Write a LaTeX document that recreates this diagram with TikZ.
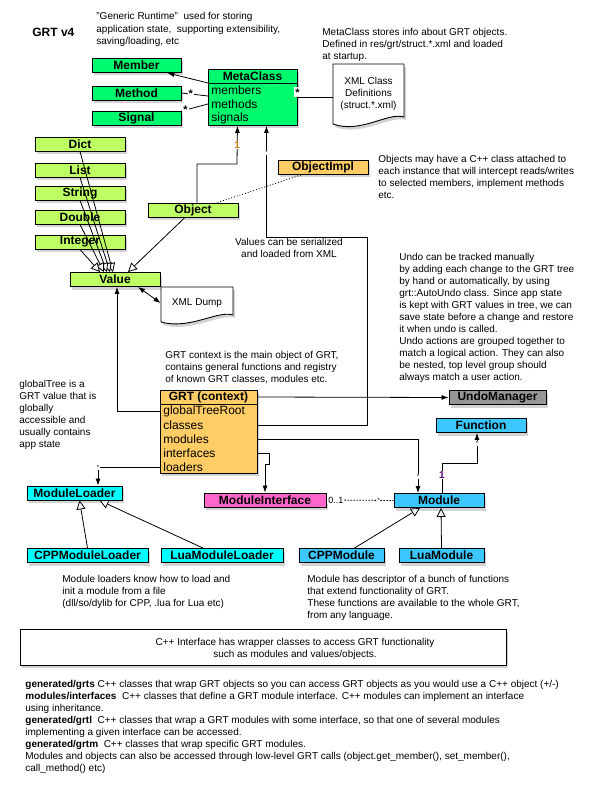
\documentclass[tikz,border=0pt]{standalone}
\usepackage{fontspec}
\setmainfont{Liberation Sans}
\usetikzlibrary{arrows.meta,shadows}
\definecolor{mcgreen}{RGB}{0,250,110}
\definecolor{valgreen}{RGB}{190,255,100}
\definecolor{grtorange}{RGB}{255,204,102}
\definecolor{undogray}{RGB}{150,150,150}
\definecolor{aqua}{RGB}{0,255,255}
\definecolor{skyblue}{RGB}{60,200,255}
\definecolor{ifpink}{RGB}{255,102,204}
\definecolor{oneorange}{RGB}{200,120,20}
\definecolor{onepurple}{RGB}{90,0,110}
\begin{document}
\begin{tikzpicture}[x=1pt, y=-1pt, line width=0.8pt,
    shad/.style={drop shadow={shadow xshift=2pt, shadow yshift=-3pt, opacity=.35}},
    cls/.style={draw, line width=0.9pt, minimum height=14pt, inner sep=0pt, shad,
        font=\bfseries\fontsize{12}{14}\selectfont},
    fld/.style={anchor=west, inner sep=0pt, font=\fontsize{12}{14}\selectfont},
    txt/.style={anchor=north west, align=left, inner sep=0pt, font=\fontsize{10}{12}\selectfont},
    mult/.style={fill=white, inner sep=1pt, font=\bfseries\fontsize{11}{11}\selectfont},
    tstar/.style={fill=white, inner sep=0.5pt, font=\fontsize{6}{6}\selectfont},
    one/.style={fill=white, inner sep=1pt, font=\bfseries\fontsize{10}{10}\selectfont},
    doc/.style={draw, line width=0.9pt, fill=white, shad},
    arr/.style={-{Latex[length=7pt,width=5pt]}},
    inh/.style={-{Triangle[fill=white,length=9pt,width=9pt]}}]
\useasboundingbox (0,0) rectangle (591,794);
% notes
\node[anchor=west, inner sep=0pt, font=\bfseries\fontsize{12}{14}\selectfont] (title) at (32,32) {GRT v4};
\node[txt, font=\fontsize{10}{12.5}\selectfont] (grtnote) at (96,12) {"Generic Runtime"\ \ used for storing\\application state,\ \ supporting extensibility,\\saving/loading, etc};
\node[txt] (mcnote) at (322,28) {MetaClass stores info about GRT objects.\\Defined in res/grt/struct.*.xml and loaded\\at startup.};
\node[txt] (implnote) at (378,155) {Objects may have a C++ class attached to\\each instance that will intercept reads/writes\\to selected members, implement methods\\etc.};
\node[txt, anchor=north, align=center] (xmlnote) at (289,238) {Values can be serialized\\and loaded from XML};
\node[txt] (undonote) at (399,253) {Undo can be tracked manually\\by adding each change to the GRT tree\\by hand or automatically, by using\\grt::AutoUndo class. Since app state\\is kept with GRT values in tree, we can\\save state before a change and restore\\it when undo is called.\\Undo actions are grouped together to\\match a logical action. They can also\\be nested, top level group should\\always match a user action.};
\node[txt] (ctxnote) at (165,351) {GRT context is the main object of GRT,\\contains general functions and registry\\of known GRT classes, modules etc.};
\node[txt] (treenote) at (19,380) {globalTree is a\\GRT value that is\\globally\\accessible and\\usually contains\\app state};
\node[txt] (loadnote) at (62,575) {Module loaders know how to load and\\init a module from a file\\(dll/so/dylib for CPP, .lua for Lua etc)};
\node[txt] (modnote) at (307,575) {Module has descriptor of a bunch of functions\\that extend functionality of GRT.\\These functions are available to the whole GRT,\\from any language.};
% documents
\path[doc] (333,64) -- (404,64) -- (404,117) .. controls (388,112) and (360,134) .. (333,124) -- cycle;
\node[minimum width=71pt, minimum height=50pt, inner sep=0pt, align=center, font=\fontsize{10}{12}\selectfont] (xmldefs) at (368.5,94) {XML Class\\Definitions\\(struct.*.xml)};
\path[doc] (161,287) -- (233,287) -- (233,315) .. controls (218,310) and (190,330) .. (161,322) -- cycle;
\node[minimum width=72pt, minimum height=20pt, inner sep=0pt, font=\fontsize{10}{12}\selectfont] (xmldump) at (197,303) {XML Dump};
% classes
\node[cls, fill=mcgreen, minimum width=89pt] (member) at (136.5,65.5) {Member};
\node[cls, fill=mcgreen, minimum width=89pt] (method) at (136.5,93) {Method};
\node[cls, fill=mcgreen, minimum width=89pt] (signal) at (136.5,118.5) {Signal};
\node[cls, fill=mcgreen, minimum width=89pt, minimum height=56pt, anchor=north west] (metaclass) at (208,69) {};
\node[inner sep=0pt, font=\bfseries\fontsize{12}{14}\selectfont] (mchead) at (252.5,76) {MetaClass};
\draw[line width=0.9pt] (metaclass.north west) ++(0,14) -- ++(89,0);
\node[fld] (mcmembers) at (211,90) {members};
\node[fld] (mcmethods) at (211,104) {methods};
\node[fld] (mcsignals) at (211,118) {signals};
\foreach \n/\y/\t in {dict/144/Dict, list/170/List, string/193/String, double/217/Double, integer/242/Integer}
  \node[cls, fill=valgreen, minimum width=90pt] (\n) at (80,\y) {\t};
\node[cls, fill=valgreen, minimum width=90pt] (value) at (115,279.5) {Value};
\node[cls, fill=valgreen, minimum width=90pt] (object) at (193,210) {Object};
\node[cls, fill=grtorange, minimum width=90pt] (objectimpl) at (323,167) {ObjectImpl};
\node[cls, fill=grtorange, minimum width=97pt, minimum height=83pt, anchor=north west] (grt) at (160,390) {};
\node[inner sep=0pt, font=\bfseries\fontsize{12}{14}\selectfont] (grthead) at (208.5,397) {GRT (context)};
\draw[line width=0.9pt] (grt.north west) ++(0,14) -- ++(97,0);
\node[fld] (groot) at (163,411) {globalTreeRoot};
\node[fld] (gclasses) at (163,425) {classes};
\node[fld] (gmodules) at (163,439) {modules};
\node[fld] (gifaces) at (163,453) {interfaces};
\node[fld] (gloaders) at (163,467) {loaders};
\node[cls, fill=undogray, minimum width=97pt] (undo) at (497.5,397.5) {UndoManager};
\node[cls, fill=skyblue, minimum width=90pt] (function) at (481,425.5) {Function};
\node[cls, fill=aqua, minimum width=95pt] (modloader) at (74.5,493) {ModuleLoader};
\node[cls, fill=ifpink, minimum width=122pt] (modiface) at (265,500) {ModuleInterface};
\node[cls, fill=skyblue, minimum width=90pt] (module) at (439,500.5) {Module};
\node[cls, fill=aqua, minimum width=121pt] (cppmodloader) at (87.5,555.5) {CPPModuleLoader};
\node[cls, fill=aqua, minimum width=122pt] (luamodloader) at (222,555.5) {LuaModuleLoader};
\node[cls, fill=skyblue, minimum width=85pt] (cppmodule) at (341.5,555.5) {CPPModule};
\node[cls, fill=skyblue, minimum width=85pt] (luamodule) at (441.5,555.5) {LuaModule};
\node[draw, line width=0.9pt, fill=white, shad, minimum width=486pt, minimum height=36pt] (cppbox) at (263,647) {};
\node[inner sep=0pt, align=center, font=\fontsize{10}{12}\selectfont] (cppnote) at (295,649) {C++ Interface has wrapper classes to access GRT functionality\\such as modules and values/objects.};
\node[txt] (gennote) at (25,680) {\textbf{generated/grts} C++ classes that wrap GRT objects so you can access GRT objects as you would use a C++ object (+/-)\\\textbf{modules/interfaces}\ \ C++ classes that define a GRT module interface. C++ modules can implement an interface\\using inheritance.\\\textbf{generated/grtl}\ \ C++ classes that wrap a GRT modules with some interface, so that one of several modules\\implementing a given interface can be accessed.\\\textbf{generated/grtm}\ \ C++ classes that wrap specific GRT modules.\\Modules and objects can also be accessed through low-level GRT calls (object.get\_member(), set\_member(),\\call\_method() etc)};
% connectors
\coordinate (objup) at (237,164);
\coordinate (serial) at (367,237);
\draw[arr] ([yshift=-14pt]metaclass.north west) -- ([xshift=-14pt]member.south east);
\draw ([yshift=-27pt]metaclass.north west) -- node[mult, pos=0.65]{*} (method.east);
\draw ([yshift=-35pt]metaclass.north west) -- node[mult, pos=0.85]{*} (signal.north east);
\draw (metaclass.east) -- node[mult, pos=0, anchor=south west, xshift=-4pt]{*} (metaclass.east -| xmldefs.west);
\draw[arr] ([xshift=4pt]object.north) |- (objup) -- node[one, text=oneorange, pos=0.5]{1} ([xshift=-15.5pt]metaclass.south);
\draw[arr] (gclasses -| grt.east) -| (serial) -| node[tstar, pos=0.88]{*} ([xshift=13.5pt]metaclass.south);
\draw[dotted, line width=0.9pt] ([xshift=-21pt]object.north east) -- ([xshift=25pt]objectimpl.south west);
\foreach \n/\s in {dict/-2, list/-5, string/-8, double/-11, integer/-15}
  \draw[inh] (\n.south) -- ([xshift=\s pt]value.north);
\draw[inh] ([xshift=-8pt]object.south) -- ([xshift=13pt]value.north);
\draw[{Latex[length=7pt,width=5pt]}-{Latex[length=7pt,width=5pt]}] ([xshift=23pt]value.south) -- (xmldump.west);
\draw[arr] (groot -| grt.west) -| ([xshift=2pt]value.south);
\draw[arr] (grthead -| grt.east) -- (undo.west);
\draw[arr] (gmodules -| grt.east) -| node[tstar, pos=0.85]{*} ([xshift=-21pt]module.north);
\draw[arr] (gifaces -| grt.east) -- ++(11,0) -- ++(0,11) -| (modiface.north);
\draw[arr] (gloaders -| grt.west) -| node[tstar, pos=0.52]{*} ([xshift=23.5pt]modloader.north);
\draw[dash pattern=on 1.5pt off 1.5pt] (modiface.east) -- node[pos=0.14, fill=white, inner sep=1pt, font=\fontsize{9}{9}\selectfont]{0..1} node[tstar, pos=0.78]{*} (module.west);
\draw[arr] ([xshift=3pt]module.north) -- node[one, text=onepurple, pos=0.6]{1} ++(0,-30) -| node[tstar, pos=0.82]{*} ([xshift=-4pt]function.south);
\draw[inh] ([xshift=13pt]cppmodule.north) -- ([xshift=-19pt]module.south);
\draw[inh] (luamodule.north) -- ([xshift=2pt]module.south);
\draw[inh] (cppmodloader.north) -- ([xshift=5pt]modloader.south);
\draw[inh] ([xshift=-19pt]luamodloader.north) -- ([xshift=25pt]modloader.south);
\end{tikzpicture}
\end{document}
